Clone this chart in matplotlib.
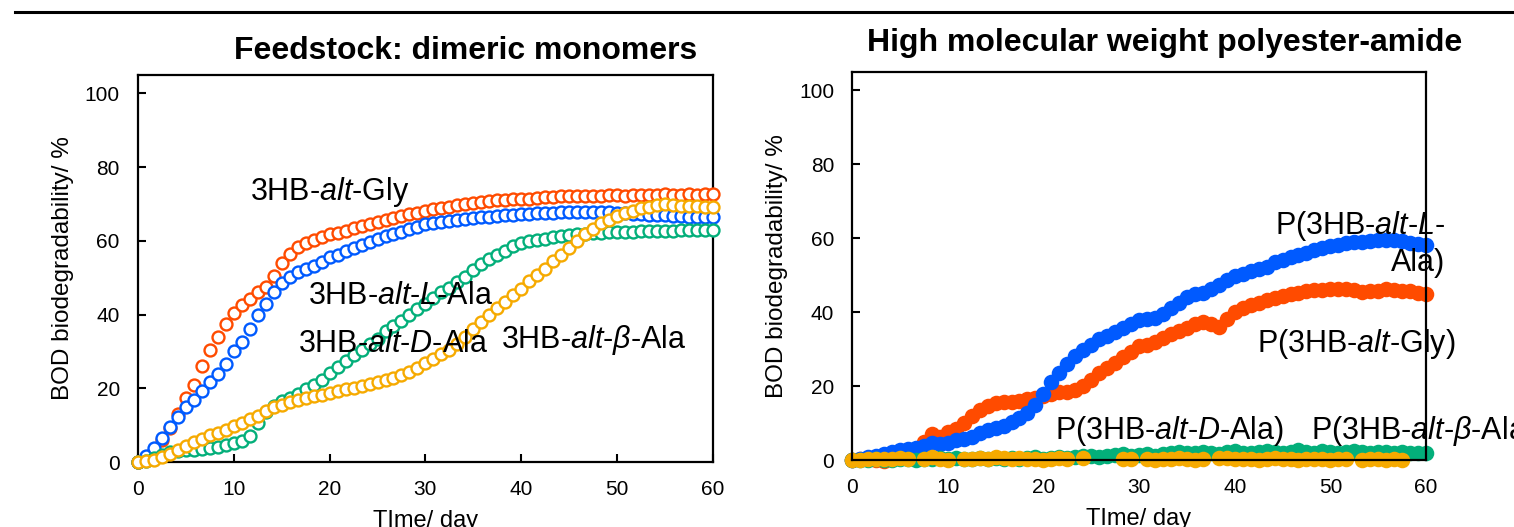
import numpy as np
import matplotlib
matplotlib.use("Agg")
import matplotlib.pyplot as plt
from matplotlib.lines import Line2D

plt.rcParams['font.family'] = ['Liberation Sans', 'DejaVu Sans']
plt.rcParams['mathtext.fontset'] = 'custom'
plt.rcParams['mathtext.rm'] = 'Liberation Sans'
plt.rcParams['mathtext.it'] = 'Liberation Sans:italic'
plt.rcParams['mathtext.bf'] = 'Liberation Sans:bold'

nan = np.nan

# sampling days (every 20 h over 60 days)
days = np.linspace(0, 60, 73)

# left panel: dimeric monomers
mono_gly = [0, 0.8, 3, 6, 9.3, 13, 17.5, 21, 26, 30.5,
            34, 37.5, 40.5, 42.5, 44.3, 46, 47.5, 50.5, 54, 56.5,
            58.3, 59.5, 60.3, 61, 61.8, 62.2, 62.8, 63.4, 64, 64.6,
            65.2, 65.8, 66.2, 66.7, 67.2, 67.6, 68.2, 68.6, 68.9, 69.3,
            69.7, 70, 70.3, 70.5, 70.8, 71, 71.1, 71.3, 71.5, 71.5,
            71.7, 71.8, 72, 72.1, 72.1, 72.2, 72.2, 72.3, 72.3, 72.4,
            72.4, 72.3, 72.4, 72.5, 72.4, 72.5, 72.6, 72.5, 72.5, 72.6,
            72.5, 72.6, 72.6]
mono_lala = [0, 1.5, 3.7, 6.5, 9.5, 12.2, 15, 16.7, 19.3, 21.8,
             24, 26.5, 30, 32.5, 36, 39.8, 43, 46, 48.5, 50.2,
             51.5, 52.5, 53.3, 54.2, 55.5, 56.2, 57.2, 58, 58.8, 59.6,
             60.5, 61.3, 62, 62.5, 63.2, 63.9, 64.5, 64.8, 65.2, 65.5,
             65.8, 66, 66.2, 66.4, 66.6, 66.8, 67, 67.1, 67.4, 67.4,
             67.6, 67.6, 67.7, 67.8, 67.8, 67.8, 67.9, 67.8, 67.8, 67.8,
             67.7, 67.5, 67.4, 67.2, 67.1, 67, 66.9, 66.8, 66.7, 66.6,
             66.6, 66.5, 66.4]
mono_dala = [0, 0.4, 1.2, 2, 2.7, 3.1, 3.3, 3.3, 3.5, 3.8,
             4.2, 4.6, 5.2, 5.8, 7, 10.5, 13.5, 15.2, 16.5, 17.5,
             18.5, 19.7, 21, 22.3, 24.2, 25.8, 27.5, 29, 30.5, 32,
             33.5, 35.5, 37, 38.3, 39.8, 41.5, 43, 44.5, 46, 47.3,
             48.8, 50.3, 52, 53.7, 55, 56.3, 57.3, 58.5, 59.5, 59.9,
             60.3, 60.6, 61, 61.3, 61.6, 61.9, 62, 62.1, 62.2, 62.3,
             62.4, 62.4, 62.5, 62.6, 62.6, 62.7, 62.8, 62.8, 62.9, 62.9,
             63, 63, 63]
mono_bala = [0, 0.2, 0.6, 1.3, 2.3, 3.3, 4.3, 5.3, 6.2, 7.2,
             8, 8.8, 9.8, 10.6, 11.6, 12.6, 13.8, 14.8, 15.6, 16.2,
             16.8, 17.3, 17.8, 18.3, 18.8, 19.3, 19.7, 20.1, 20.6, 21.1,
             21.6, 22.2, 22.8, 23.5, 24.4, 25.5, 26.8, 28, 29.3, 30.5,
             32, 33.8, 36, 38, 40, 41.8, 43.5, 45.2, 47, 49,
             50.8, 52.5, 54.5, 56.3, 58.2, 60, 61.8, 63.3, 64.8, 65.8,
             66.8, 67.6, 68.2, 68.8, 69.3, 69.7, 70, 69.8, 69.6, 69.5,
             69.4, 69.3, 69.3]

# right panel: high molecular weight polymers
poly_gly = [0, 0.2, 0.4, 0, -0.4, 0.3, 1, 1.8, 3, 5,
            7, 6.3, 7.5, 8.5, 10, 11.8, 13.5, 14.6, 15.3, 15.8,
            15.8, 16, 16.5, 16.8, 17.2, 17.8, 18.3, 18.5, 19, 20,
            21.5, 23.5, 25, 26.3, 27.8, 29.3, 30.8, 31.2, 31.8, 33,
            34, 34.8, 35.8, 36.8, 37.2, 36.8, 36, 38.2, 40, 41,
            41.8, 42.5, 43.2, 43.7, 44.3, 44.9, 45.2, 45.6, 45.9, 46,
            46.2, 46.1, 46.3, 45.9, 45.4, 45.6, 45.8, 46.2, 46, 45.7,
            45.6, 45.2, 44.8]
poly_lala = [0, 0.3, 0.7, 1.1, 1.6, 2.2, 2.7, 3.1, 3.3, 3.8,
             4.5, 4.2, 4.6, 5.3, 5.8, 6.3, 7.2, 8, 8.6, 9.3,
             10.2, 11.3, 12.8, 15, 17.8, 21, 23.5, 26, 28, 29.8,
             31.2, 32.7, 33.6, 34.6, 35.7, 36.8, 37.8, 38.2, 38.5, 39.6,
             41, 42.5, 44, 44.8, 45.2, 46.2, 47.3, 48.6, 49.8, 50.3,
             51, 51.6, 52.3, 53.5, 54.2, 54.8, 55.5, 56.1, 56.7, 57.3,
             57.8, 58.2, 58.6, 58.9, 59, 59.3, 59.4, 59.5, 59.4, 59.1,
             58.8, 58.4, 58]
poly_dala = [0, 0.1, 0, 0.2, 0.1, 0, 0.2, 0.3, 0.1, 0.2,
             0.4, 0.5, 0.3, 0.6, 0.2, 0.4, 0.6, 0.3, 0.5, 0.4,
             0.6, 0.3, 0.5, 0.7, 0.4, 0.6, 0.8, 0.5, 0.7, 1,
             1.2, 0.8, 1, 1.3, 1.5, 1.1, 1.4, 1.6, 1.2, 1.5,
             1.8, 2.2, 2, 1.8, 2.3, 2, 1.7, 2.1, 2.4, 2,
             1.8, 2.2, 2.5, 2.1, 1.9, 2.3, 2.6, 2.2, 2, 2.4,
             2.1, 1.9, 2.3, 2.5, 2.2, 2, 2.3, 2.1, 1.9, 2.2,
             2, 1.8, 1.8]
poly_bala = [0, 0.1, 0.3, 0.2, 0.4, 0.3, 0.6, 0.4, nan, 0.3,
             0.8, 0.2, 0.1, nan, 0.2, 0.3, 0.5, 0.4, 0.7, 0.5,
             0.3, 0.5, 0.2, 0.4, 0.1, 0.3, 0.5, 0.2, nan, 0.6,
             nan, nan, nan, nan, 0.2, 0.4, nan, 0.3, 0.1, 0.4,
             0.2, 0.5, 0.3, 0.1, 0.4, nan, 0.5, 0.6, 0.3, 0.2,
             0.4, 0.1, 0.3, 0.5, 0.2, 0.4, 0.1, 0.3, 0.2, 0.4,
             0.1, 0.3, 0.2, nan, 0.1, 0.3, 0.2, 0, 0.2, 0.1,
             nan, nan, nan]

RED = '#FF4B00'
BLUE = '#005AFF'
GREEN = '#03AF7A'
YELLOW = '#F6AA00'

fig = plt.figure(figsize=(15.14, 5.27), dpi=100)
ax1 = fig.add_axes([0.0911, 0.1233, 0.3798, 0.7343])
ax2 = fig.add_axes([0.5628, 0.1271, 0.3791, 0.7370])


def style(ax):
    ax.set_xlim(0, 60)
    ax.set_ylim(0, 105)
    ax.set_xticks(range(0, 61, 10))
    ax.set_yticks(range(0, 101, 20))
    ax.tick_params(direction='in', length=6, width=1.5, labelsize=15, pad=13)
    for s in ax.spines.values():
        s.set_linewidth(1.6)
    ax.set_ylabel('BOD biodegradability/ %', fontsize=17.5, va='center')
    ax.yaxis.set_label_coords(-0.13, 0.5)
    ax.set_xlabel('TIme/ day', fontsize=17, va='top')
    ax.xaxis.set_label_coords(0.5, -0.123)


# left: open circles
for vals, c in [(mono_gly, RED), (mono_lala, BLUE), (mono_dala, GREEN), (mono_bala, YELLOW)]:
    ax1.plot(days, vals, 'o', ls='none', mfc='white', mec=c, ms=8.6, mew=1.7,
             clip_on=False, zorder=3)
style(ax1)

lab = dict(fontsize=22, va='baseline', ha='left', zorder=4)
ax1.text(11.7, 71, '3HB-$\\mathit{alt}$-Gly', **lab)
ax1.text(17.7, 42.8, '3HB-$\\mathit{alt}$-$\\mathit{L}$-Ala', **lab)
ax1.text(16.7, 29.8, '3HB-$\\mathit{alt}$-$\\mathit{D}$-Ala', **lab)
ax1.text(37.9, 30.9, '3HB-$\\mathit{alt}$-$\\mathit{β}$-Ala', **lab)

# right: filled circles
for vals, c in [(poly_gly, RED), (poly_lala, BLUE), (poly_dala, GREEN), (poly_bala, YELLOW)]:
    ax2.plot(days, vals, 'o', ls='none', color=c, ms=11.2, mew=0,
             clip_on=False, zorder=2)
style(ax2)

lab2 = dict(fontsize=22, va='baseline', zorder=2.2, clip_on=False)
ax2.text(62.0, 61, 'P(3HB-$\\mathit{alt}$-$\\mathit{L}$-', ha='right', **lab2)
ax2.text(62.0, 51, 'Ala)', ha='right', **lab2)
ax2.text(42.3, 29.3, 'P(3HB-$\\mathit{alt}$-Gly)', ha='left', **lab2)
ax2.text(21.2, 5.7, 'P(3HB-$\\mathit{alt}$-$\\mathit{D}$-Ala)', ha='left', **lab2)
ax2.text(48.0, 5.7, 'P(3HB-$\\mathit{alt}$-$\\mathit{β}$-Ala)', ha='left', **lab2)

fig.text(466 / 1514, 1 - 59 / 527, 'Feedstock: dimeric monomers',
         fontsize=23, fontweight='bold', ha='center', va='baseline')
fig.text(1165 / 1514, 1 - 50.5 / 527, 'High molecular weight polyester-amide',
         fontsize=23, fontweight='bold', ha='center', va='baseline')

fig.add_artist(Line2D([0.0096, 1.0], [0.9776, 0.9776], transform=fig.transFigure,
                      color='black', lw=2.2))

fig.savefig('out.png', dpi=100)
